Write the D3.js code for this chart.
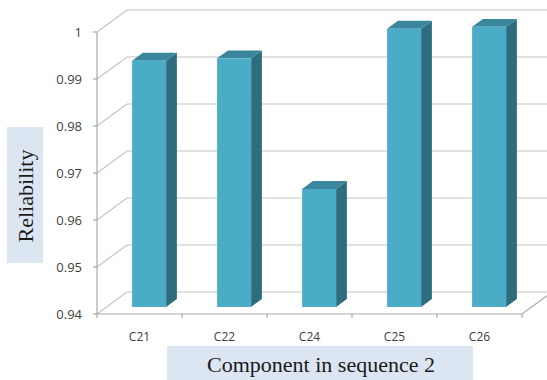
<!DOCTYPE html>
<html>
<head>
<meta charset="utf-8">
<script src="https://cdn.jsdelivr.net/npm/d3@7/dist/d3.min.js"></script>
<style>
  html, body { margin: 0; padding: 0; background: #ffffff; }
  svg { display: block; }
</style>
</head>
<body>
<svg id="chart" width="547" height="380"></svg>
<script>
// Reliability of each component in sequence 2
const categories = ["C21", "C22", "C24", "C25", "C26"];
const reliability = [0.9924, 0.9929, 0.9651, 0.9992, 0.9996];
const yTicks = [0.94, 0.95, 0.96, 0.97, 0.98, 0.99, 1];
const yTickLabels = ["0.94", "0.95", "0.96", "0.97", "0.98", "0.99", "1"];

const svg = d3.select("#chart");
const W = 547, H = 380;

// plot frame (front plane) and oblique depth of the 3D box
const plotLeft = 97, plotRight = 522, plotTop = 32, plotBottom = 314;
const depthX = 30, depthY = -22;
// bars occupy the middle slice of the depth
const barFront = 0.32, barBack = 0.68;

const x = d3.scaleBand().domain(categories).range([plotLeft, plotRight])
  .paddingInner(0.6).paddingOuter(0.3);
const xCat = d3.scaleBand().domain(categories).range([plotLeft, plotRight]);
const y = d3.scaleLinear().domain([0.94, 1]).range([plotBottom, plotTop]);

const gridColor = "#c4c4c4";
const axisColor = "#a8a8a8";

// back wall + side wall gridlines
const grid = svg.append("g");
yTicks.forEach(v => {
  const yy = y(v);
  grid.append("path")
    .attr("d", `M${plotLeft},${yy} L${plotLeft + depthX},${yy + depthY} L${W + 5},${yy + depthY}`)
    .attr("fill", "none").attr("stroke", gridColor).attr("stroke-width", 1.2);
});

// floor outline
grid.append("path")
  .attr("d", `M${plotLeft},${plotBottom} L${plotRight},${plotBottom} L${plotRight + depthX},${plotBottom + depthY}`)
  .attr("fill", "none").attr("stroke", axisColor).attr("stroke-width", 1.2);

// vertical value axis
grid.append("line")
  .attr("x1", plotLeft).attr("x2", plotLeft).attr("y1", plotTop).attr("y2", plotBottom)
  .attr("stroke", axisColor).attr("stroke-width", 1.2);

// value axis ticks and labels
const yAxis = svg.append("g");
yTicks.forEach((v, i) => {
  yAxis.append("line")
    .attr("x1", plotLeft - 4).attr("x2", plotLeft).attr("y1", y(v)).attr("y2", y(v))
    .attr("stroke", axisColor).attr("stroke-width", 1.2);
  yAxis.append("text")
    .attr("x", plotLeft - 15).attr("y", y(v))
    .attr("dy", "0.35em").attr("text-anchor", "end")
    .attr("font-family", "'Open Sans', sans-serif").attr("font-size", 13)
    .attr("fill", "#404040")
    .text(yTickLabels[i]);
});

// category tick marks and labels
const xAxis = svg.append("g");
const boundaries = categories.map(c => xCat(c)).concat([plotRight]);
boundaries.forEach(b => {
  xAxis.append("line")
    .attr("x1", b).attr("x2", b).attr("y1", plotBottom).attr("y2", plotBottom + 4)
    .attr("stroke", axisColor).attr("stroke-width", 1.2);
});
categories.forEach(c => {
  xAxis.append("text")
    .attr("x", xCat(c) + xCat.bandwidth() / 2).attr("y", plotBottom + 23)
    .attr("dy", "0.35em").attr("text-anchor", "middle")
    .attr("font-family", "'Open Sans', sans-serif").attr("font-size", 12)
    .attr("fill", "#404040")
    .text(c);
});

// 3D columns
const fx = barFront * depthX, fy = barFront * depthY;
const sx = (barBack - barFront) * depthX, sy = (barBack - barFront) * depthY;
const bars = svg.append("g");
categories.forEach((c, i) => {
  const x0 = x(c) + fx, x1 = x0 + x.bandwidth();
  const yt = y(reliability[i]) + fy, yb = y(0.94) + fy;
  // right side face
  bars.append("path")
    .attr("d", `M${x1},${yt} L${x1 + sx},${yt + sy} L${x1 + sx},${yb + sy} L${x1},${yb} Z`)
    .attr("fill", "#2e6d7e");
  // top face
  bars.append("path")
    .attr("d", `M${x0},${yt} L${x1},${yt} L${x1 + sx},${yt + sy} L${x0 + sx},${yt + sy} Z`)
    .attr("fill", "#3a879d");
  // front face
  bars.append("rect")
    .attr("x", x0).attr("y", yt).attr("width", x1 - x0).attr("height", yb - yt)
    .attr("fill", "#4aacc7");
});

// axis titles in tinted boxes
svg.append("rect").attr("x", 7).attr("y", 127).attr("width", 36).attr("height", 136)
  .attr("fill", "#dce6f2");
svg.append("text")
  .attr("transform", "translate(33,196) rotate(-90)")
  .attr("text-anchor", "middle")
  .attr("font-family", "'Liberation Serif', 'Times New Roman', serif").attr("font-size", 22)
  .attr("fill", "#1a1a1a")
  .text("Reliability");

svg.append("rect").attr("x", 167).attr("y", 346).attr("width", 306).attr("height", 36)
  .attr("fill", "#dce6f2");
svg.append("text")
  .attr("x", 321).attr("y", 372)
  .attr("text-anchor", "middle")
  .attr("font-family", "'Liberation Serif', 'Times New Roman', serif").attr("font-size", 22)
  .attr("fill", "#1a1a1a")
  .text("Component in sequence 2");
</script>
</body>
</html>
